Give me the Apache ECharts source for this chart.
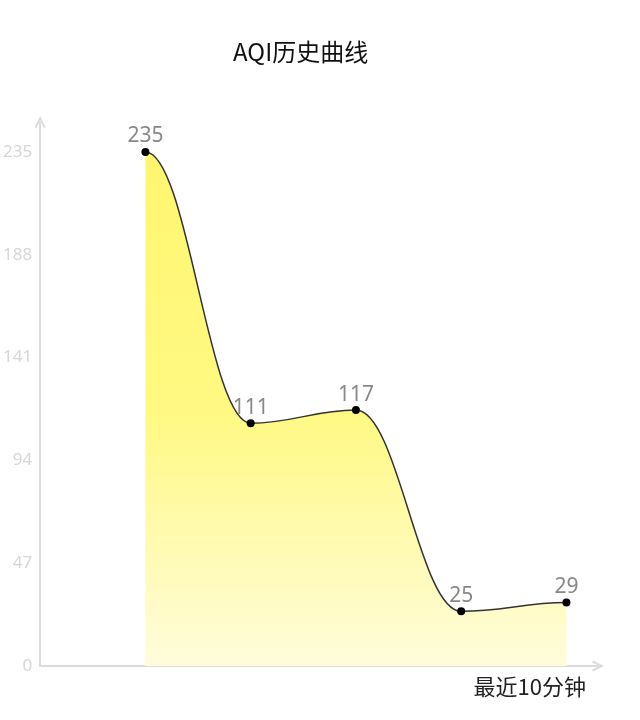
<!DOCTYPE html>
<html>
<head>
<meta charset="utf-8">
<script src="https://cdn.jsdelivr.net/npm/echarts@6/dist/echarts.min.js"></script>
<style>
  html, body { margin: 0; padding: 0; background: #fff; }
  #main { width: 640px; height: 720px; }
</style>
</head>
<body>
<div id="main"></div>
<script>
// 最近5个点的AQI
var minutes = [1, 2, 3, 4, 5];
var aqiValues = [235, 111, 117, 25, 29];
var yTicks = [0, 47, 94, 141, 188, 235];

var points = minutes.map(function (m, i) { return [m, aqiValues[i]]; });
var arrowPath = 'path://M0,10 L5,0 L10,10 L8.3,11 L5,4 L1.7,11 Z';
var SMOOTH = 0.4; // 控制点水平偏移比例

// 画平滑曲线 + 渐变面积（每个点切线水平）
function renderCurve(params, api) {
    if (params.dataIndex !== 0) {
        return null;
    }
    var pts = [];
    for (var i = 0; i < minutes.length; i++) {
        pts.push(api.coord([minutes[i], aqiValues[i]]));
    }
    var baseY = api.coord([minutes[0], yTicks[0]])[1];
    var curve = 'M' + pts[0][0] + ',' + pts[0][1];
    for (var j = 1; j < pts.length; j++) {
        var dx = pts[j][0] - pts[j - 1][0];
        curve += ' C' + (pts[j - 1][0] + dx * SMOOTH) + ',' + pts[j - 1][1] +
            ' ' + (pts[j][0] - dx * SMOOTH) + ',' + pts[j][1] +
            ' ' + pts[j][0] + ',' + pts[j][1];
    }
    var last = pts[pts.length - 1];
    var area = curve + ' L' + last[0] + ',' + baseY + ' L' + pts[0][0] + ',' + baseY + ' Z';
    return {
        type: 'group',
        children: [
            {
                type: 'path',
                shape: { pathData: area },
                style: {
                    fill: new echarts.graphic.LinearGradient(0, 0, 0, 1, [
                        { offset: 0, color: '#fff570' },
                        { offset: 0.5, color: '#fff982' },
                        { offset: 1, color: '#fffcdc' }
                    ]),
                    stroke: null
                }
            },
            {
                type: 'path',
                shape: { pathData: curve },
                style: { fill: null, stroke: '#333', lineWidth: 1.5 }
            }
        ]
    };
}

var myChart = echarts.init(document.getElementById('main'));

var option = {
    backgroundColor: '#fff',
    animation: false,
    title: {
        text: 'AQI历史曲线',
        left: 228,
        top: 35,
        textStyle: {
            fontFamily: 'Noto Sans CJK SC',
            fontSize: 24,
            fontWeight: 'normal',
            color: '#111'
        }
    },
    grid: {
        left: 40,
        right: 42,
        top: 122,
        bottom: 54
    },
    xAxis: {
        type: 'value',
        min: 0,
        max: 5.3,
        name: '最近10分钟',
        nameLocation: 'end',
        nameGap: -12,
        nameTextStyle: {
            fontFamily: 'Noto Sans CJK SC',
            fontSize: 22,
            color: '#222',
            align: 'right',
            verticalAlign: 'top',
            padding: [10, 0, 0, 0]
        },
        axisLine: {
            show: true,
            symbol: ['none', arrowPath],
            symbolSize: [15, 12],
            lineStyle: { color: '#dcdcdc', width: 2 }
        },
        axisTick: { show: false },
        axisLabel: { show: false },
        splitLine: { show: false }
    },
    yAxis: {
        type: 'value',
        min: yTicks[0],
        max: 248.7,
        interval: yTicks[1] - yTicks[0],
        axisLine: {
            show: true,
            symbol: ['none', arrowPath],
            symbolSize: [15, 12],
            lineStyle: { color: '#dcdcdc', width: 2 }
        },
        axisTick: { show: false },
        splitLine: { show: false },
        axisLabel: {
            showMaxLabel: false,
            margin: 8,
            color: '#d6d6d6',
            fontSize: 17,
            fontFamily: 'Noto Sans'
        }
    },
    series: [
        {
            type: 'custom',
            data: points,
            z: 1,
            silent: true,
            renderItem: renderCurve
        },
        {
            type: 'line',
            data: points,
            z: 2,
            symbol: 'circle',
            symbolSize: 8,
            itemStyle: { color: '#000' },
            lineStyle: { width: 0, opacity: 0 },
            label: {
                show: true,
                position: 'top',
                distance: 1,
                color: '#888',
                fontSize: 21,
                fontFamily: 'Noto Sans'
            }
        }
    ]
};

myChart.setOption(option);
</script>
</body>
</html>
